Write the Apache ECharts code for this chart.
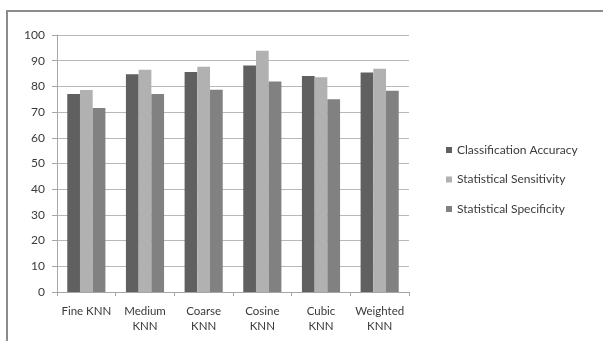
<!DOCTYPE html>
<html>
<head>
<meta charset="utf-8">
<script src="https://cdn.jsdelivr.net/npm/echarts@6/dist/echarts.min.js"></script>
<style>
  html, body { margin: 0; padding: 0; background: #ffffff; }
  #chart { width: 603px; height: 341px; }
</style>
</head>
<body>
<div id="chart"></div>
<script>
// KNN classifier variants and their performance measures (%)
const categories = ['Fine KNN', 'Medium\nKNN', 'Coarse\nKNN', 'Cosine\nKNN', 'Cubic\nKNN', 'Weighted\nKNN'];
const classificationAccuracy = [77.0, 84.7, 85.6, 88.1, 84.0, 85.4];
const statisticalSensitivity = [78.6, 86.5, 87.6, 93.9, 83.6, 86.9];
const statisticalSpecificity = [71.6, 77.0, 78.7, 81.9, 75.0, 78.3];
const yTicks = { min: 0, max: 100, step: 10 };

const font = 'Lato, "Open Sans", "DejaVu Sans", sans-serif';
const chart = echarts.init(document.getElementById('chart'), null, { renderer: 'canvas' });

function barSeries(name, data, color) {
  return {
    name: name,
    type: 'bar',
    data: data,
    barGap: '0%',
    barCategoryGap: '35%',
    itemStyle: { color: color },
    emphasis: { disabled: true }
  };
}

chart.setOption({
  animation: false,
  backgroundColor: '#ffffff',
  textStyle: { fontFamily: font },
  grid: { left: 57, right: 194, top: 35, bottom: 49, containLabel: false },
  legend: {
    orient: 'vertical',
    left: 441,
    top: 138,
    itemWidth: 6,
    itemHeight: 6,
    itemGap: 15.5,
    icon: 'rect',
    textStyle: { fontFamily: font, fontSize: 12, color: '#3a3a3a', lineHeight: 14 },
    data: ['Classification Accuracy', 'Statistical Sensitivity', 'Statistical Specificity']
  },
  xAxis: {
    type: 'category',
    data: categories,
    boundaryGap: true,
    axisLine: { lineStyle: { color: '#a6a6a6', width: 1 } },
    axisTick: { show: true, length: 4, alignWithLabel: false, lineStyle: { color: '#a6a6a6' } },
    axisLabel: { fontFamily: font, fontSize: 11.5, color: '#3a3a3a', margin: 12, lineHeight: 15, interval: 0 },
    splitLine: { show: false }
  },
  yAxis: {
    type: 'value',
    min: yTicks.min,
    max: yTicks.max,
    interval: yTicks.step,
    axisLine: { show: true, lineStyle: { color: '#a6a6a6', width: 1 } },
    axisTick: { show: true, length: 5, lineStyle: { color: '#a6a6a6' } },
    axisLabel: { fontFamily: font, fontSize: 12, color: '#3a3a3a', margin: 12 },
    splitLine: { show: true, lineStyle: { color: '#b8b8b8', width: 1 } }
  },
  graphic: [
    { type: 'line', shape: { x1: 7, y1: 11, x2: 603, y2: 11 }, style: { stroke: '#8c8c8c', lineWidth: 2 }, silent: true },
    { type: 'line', shape: { x1: 7, y1: 10, x2: 7, y2: 341 }, style: { stroke: '#8c8c8c', lineWidth: 2 }, silent: true }
  ],
  series: [
    barSeries('Classification Accuracy', classificationAccuracy, '#606060'),
    barSeries('Statistical Sensitivity', statisticalSensitivity, '#b1b1b1'),
    barSeries('Statistical Specificity', statisticalSpecificity, '#818181')
  ]
});
</script>
</body>
</html>
